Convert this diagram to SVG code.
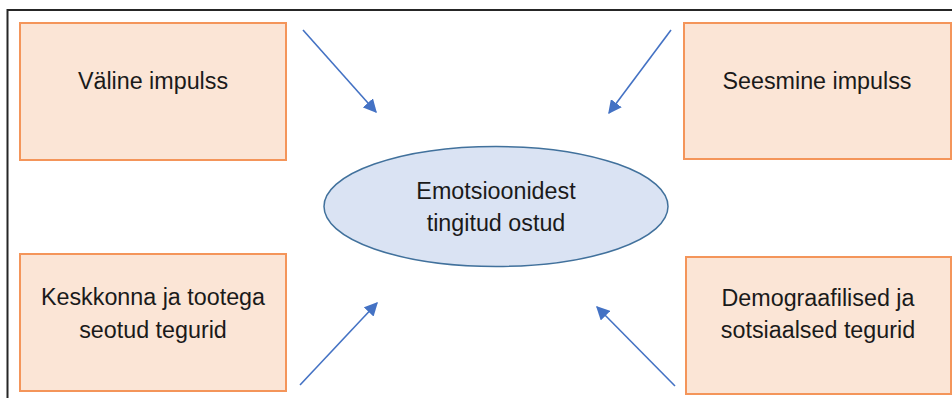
<svg xmlns="http://www.w3.org/2000/svg" width="952" height="398" viewBox="0 0 952 398">
  <style>
    .box { fill: #FBE5D6; stroke: #F4955A; stroke-width: 2; }
    .ell { fill: #DAE3F3; stroke: #41719C; stroke-width: 1.5; }
    .txt { font-family: "Liberation Sans", Arial, sans-serif; font-size: 23.3px; fill: #1a1a1a; text-anchor: middle; }
    .arr { stroke: #4472C4; stroke-width: 1.6; fill: none; marker-end: url(#ah); }
    .frame { fill: none; stroke: #262626; stroke-width: 2; }
  </style>
  <defs>
    <marker id="ah" viewBox="0 0 10 10" refX="9" refY="5" markerWidth="8.5" markerHeight="8.5" markerUnits="strokeWidth" orient="auto">
      <path d="M0,0 L10,5 L0,10 Z" fill="#4472C4"/>
    </marker>
  </defs>
  <rect width="952" height="398" fill="#ffffff"/>
  <polyline class="frame" points="7.5,398 7.5,10 952,10"/>

  <g id="node-valine">
    <rect class="box" x="20" y="23" width="266" height="137"/>
    <text class="txt" x="153" y="89">Väline impulss</text>
  </g>
  <g id="node-seesmine">
    <rect class="box" x="684" y="23" width="267" height="136"/>
    <text class="txt" x="817" y="89">Seesmine impulss</text>
  </g>
  <g id="node-keskkonna">
    <rect class="box" x="20" y="254" width="266" height="137"/>
    <text class="txt" x="153" y="305">Keskkonna ja tootega</text>
    <text class="txt" x="153" y="338">seotud tegurid</text>
  </g>
  <g id="node-demograafilised">
    <rect class="box" x="686" y="257" width="265" height="137"/>
    <text class="txt" x="818" y="306">Demograafilised ja</text>
    <text class="txt" x="818" y="338">sotsiaalsed tegurid</text>
  </g>
  <g id="node-center">
    <ellipse class="ell" cx="496" cy="206.5" rx="172" ry="60"/>
    <text class="txt" x="496" y="199">Emotsioonidest</text>
    <text class="txt" x="496" y="231">tingitud ostud</text>
  </g>

  <g id="connectors">
    <line class="arr" x1="303" y1="30" x2="376" y2="112"/>
    <line class="arr" x1="671" y1="30" x2="609" y2="113"/>
    <line class="arr" x1="300" y1="385" x2="377" y2="303"/>
    <line class="arr" x1="675" y1="386" x2="597" y2="307"/>
  </g>
</svg>
